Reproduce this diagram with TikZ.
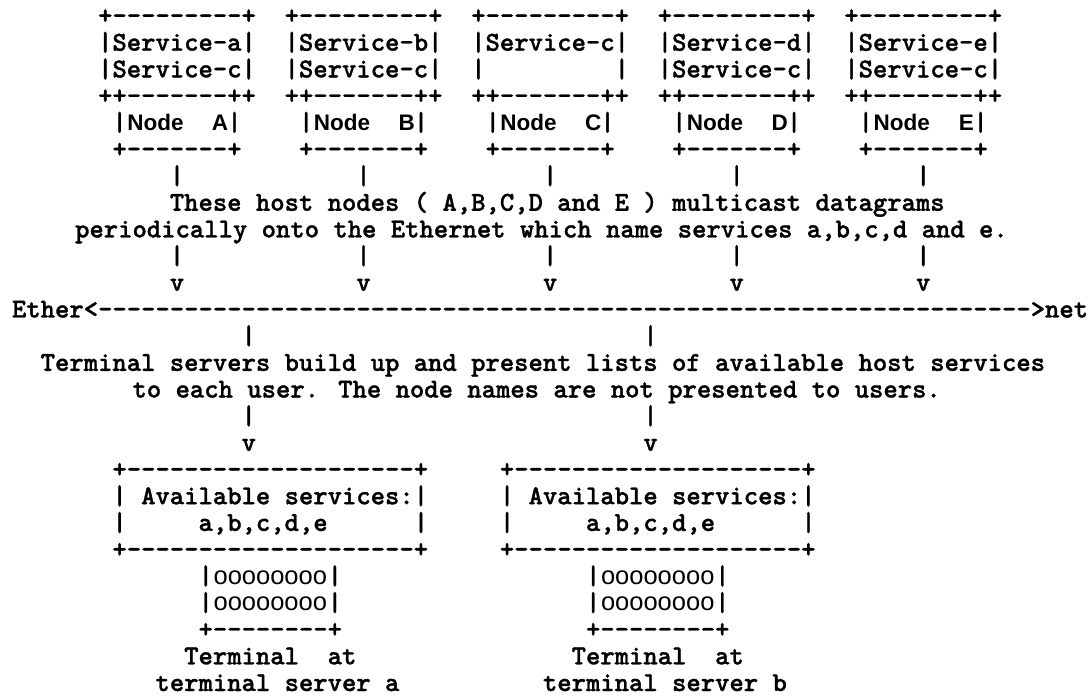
\documentclass[tikz,border=0pt]{standalone}
\usepackage{fontspec}
\newfontfamily\asciifont{lmmonolt10-bold.otf}[Ligatures=TeXOff, FakeBold=1.2]
\newfontfamily\sanslabel{Liberation Sans}[Ligatures=TeXOff]
\tikzset{
  ascii/.style={anchor=base west, inner sep=0pt, outer sep=0pt, text=black,
    font={\asciifont\fontsize{27.33}{32}\selectfont}},
  nodename/.style={anchor=base west, inner sep=0pt, outer sep=0pt, text=black,
    font={\sanslabel\bfseries\fontsize{22.5}{26}\selectfont}},
  nodeletter/.style={nodename, anchor=base},
  keys/.style={anchor=base, inner sep=0pt, outer sep=0pt, text=black,
    font={\sanslabel\fontsize{25.5}{30}\selectfont}}
}
% character grid: column c starts at 12 + 14.35 c, row r has its baseline at 24 + 26.68 r
\newcommand\gx[1]{12+14.35*(#1)}
\newcommand\gy[1]{24+26.68*(#1)}
\newcommand\gridtext[4]{\node[ascii] (#1) at ({\gx{#2}},{\gy{#3}}) {#4};}
\begin{document}
\begin{tikzpicture}[x=1pt,y=-1pt]
\fill[white] (0,0) rectangle (1091,698);
\useasboundingbox (0,0) rectangle (1091,698);

% host nodes with their service lists
\foreach \k/\s/\L in {0/a/A,1/b/B,2/c/C,3/d/D,4/e/E} {
  \pgfmathsetmacro\c{6+13*\k}
  \gridtext{top\L}{\c}{0}{+---------+}
  \gridtext{svc\L}{\c}{1}{|Service-\s|}
  \gridtext{mid\L}{\c}{3}{++-------++}
  \gridtext{lbar\L}{\c+1}{4}{|}
  \node[nodename] (name\L) at ({\gx{\c+2}+0.5},{\gy{4}}) {Node};
  \node[nodeletter] (letter\L) at ({\gx{\c+8.5}},{\gy{4}}) {\L};
  \gridtext{rbar\L}{\c+9}{4}{|}
  \gridtext{bot\L}{\c+1}{5}{+-------+}
  \gridtext{up\L}{\c+5}{6}{|}
  \gridtext{down\L}{\c+5}{9}{|}
  \gridtext{head\L}{\c+5}{10}{v}
}
\gridtext{svcAc}{6}{2}{|Service-c|}
\gridtext{svcBc}{19}{2}{|Service-c|}
\gridtext{svcCl}{32}{2}{|}
\gridtext{svcCr}{42}{2}{|}
\gridtext{svcDc}{45}{2}{|Service-c|}
\gridtext{svcEc}{58}{2}{|Service-c|}

\gridtext{hostsA}{11}{7}{These host nodes ( A,B,C,D and E ) multicast datagrams}
\gridtext{hostsB}{4.4}{8}{periodically onto the Ethernet which name services a,b,c,d and e.}

% the Ethernet
\gridtext{ether}{0}{11}{Ether<-----------------------------------------------------------------{}>net}

\foreach \t/\c in {a/16,b/44} {
  \gridtext{tap\t}{\c}{12}{|}
  \gridtext{feed\t}{\c}{15}{|}
  \gridtext{arrow\t}{\c}{16}{v}
}
\gridtext{listsA}{2}{13}{Terminal servers build up and present lists of available host services}
\gridtext{listsB}{8.4}{14}{to each user. The node names are not presented to users.}

% terminal servers and their terminals
\foreach \t/\c in {a/7,b/34} {
  \gridtext{srvtop\t}{\c}{17}{+--------------------+}
  \gridtext{avail\t}{\c}{18}{| Available services:|}
  \gridtext{listl\t}{\c}{19}{|}
  \gridtext{list\t}{\c+6}{19}{a,b,c,d,e}
  \gridtext{listr\t}{\c+21}{19}{|}
  \gridtext{srvbot\t}{\c}{20}{+--------------------+}
  \gridtext{kla\t}{\c+6}{21}{|}
  \node[keys] (keysa\t) at ({\gx{\c+11}},{\gy{21}}) {oooooooo};
  \gridtext{kra\t}{\c+15}{21}{|}
  \gridtext{klb\t}{\c+6}{22}{|}
  \node[keys] (keysb\t) at ({\gx{\c+11}},{\gy{22}}) {oooooooo};
  \gridtext{krb\t}{\c+15}{22}{|}
  \gridtext{termbot\t}{\c+6}{23}{+--------+}
  \gridtext{term\t}{\c+5}{24}{Terminal}
  \gridtext{at\t}{\c+15}{24}{at}
  \gridtext{server\t}{\c+3}{25}{terminal server \t}
}
\end{tikzpicture}
\end{document}
